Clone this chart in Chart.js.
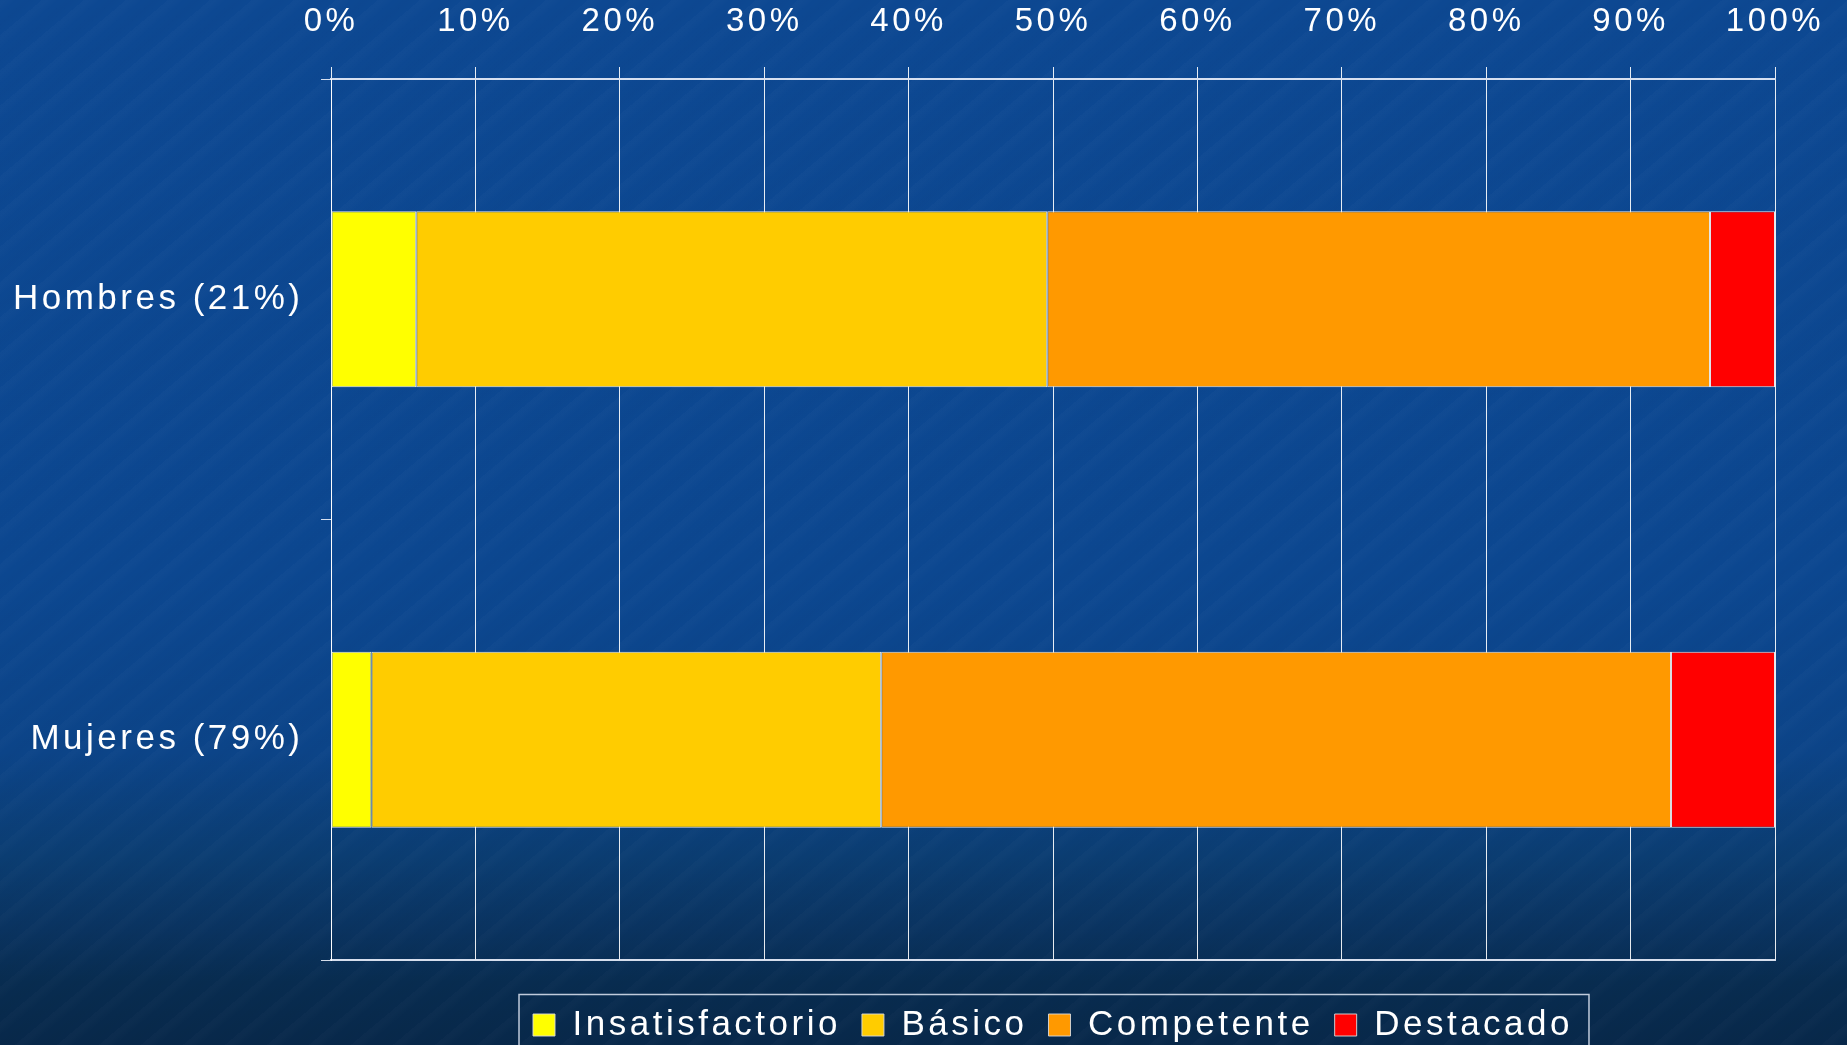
<!DOCTYPE html>
<html>
<head>
<meta charset="utf-8">
<script src="https://cdn.jsdelivr.net/npm/chart.js@4/dist/chart.umd.min.js"></script>
<style>
  html, body { margin: 0; padding: 0; width: 1847px; height: 1045px; overflow: hidden; }
  body {
    background:
      repeating-linear-gradient(140deg, rgba(255,255,255,0.015) 0px, rgba(255,255,255,0.015) 4px, rgba(0,0,0,0) 11px, rgba(0,0,0,0.012) 19px, rgba(0,0,0,0) 27px),
      linear-gradient(to bottom, #0d4892 0%, #0c4790 55%, #0c4488 72%, #0b3d72 82%, #0a3360 89%, #082c50 94%, #08284a 100%);
  }
  #wrap { position: absolute; left: 0; top: 0; width: 1847px; height: 1045px; }
</style>
</head>
<body>
<div id="wrap"><canvas id="c" width="1847" height="1045"></canvas></div>
<script>
const categories = ['Hombres (21%)', 'Mujeres (79%)'];
const seriesNames = ['Insatisfactorio', 'Básico', 'Competente', 'Destacado'];
const insatisfactorio = [5.9, 2.8];
const basico = [43.7, 35.3];
const competente = [45.9, 54.7];
const destacado = [4.5, 7.2];
const tickValues = [0, 10, 20, 30, 40, 50, 60, 70, 80, 90, 100];
const colors = ['#FFFF00', '#FFCC00', '#FF9900', '#FF0000'];

const seriesValues = [insatisfactorio, basico, competente, destacado];
const FONT = "'Liberation Sans', Arial, sans-serif";

function applySpacing(chart) {
  try { chart.ctx.letterSpacing = '3.5px'; } catch (e) {}
}

const spacingPlugin = {
  id: 'spacing',
  beforeInit: applySpacing,
  beforeUpdate: applySpacing,
  beforeLayout: applySpacing,
  afterLayout(chart) {
    // centre the legend under the plot area
    const lg = chart.legend;
    if (lg && chart.chartArea) {
      lg.left = chart.chartArea.left;
      lg.right = chart.chartArea.right;
      lg.width = lg.right - lg.left;
    }
  },
  beforeDraw: applySpacing,
  beforeDatasetsDraw: applySpacing,
  afterDatasetsDraw: applySpacing
};

const legendFrame = {
  id: 'legendFrame',
  afterDraw(chart) {
    const lg = chart.legend;
    if (!lg || !lg.legendHitBoxes || !lg.legendHitBoxes.length) return;
    const boxes = lg.legendHitBoxes;
    const first = boxes[0], last = boxes[boxes.length - 1];
    const ctx = chart.ctx;
    ctx.save();
    ctx.strokeStyle = 'rgba(225,232,245,0.85)';
    ctx.lineWidth = 1.5;
    const l = first.left - 14, r = last.left + last.width + 16;
    const t = first.top - 13;
    ctx.beginPath();
    ctx.moveTo(l, chart.height + 5);
    ctx.lineTo(l, t);
    ctx.lineTo(r, t);
    ctx.lineTo(r, chart.height + 5);
    ctx.stroke();
    ctx.restore();
  }
};

new Chart(document.getElementById('c'), {
  type: 'bar',
  data: {
    labels: categories,
    datasets: seriesNames.map((name, i) => ({
      label: name,
      data: seriesValues[i],
      backgroundColor: colors[i],
      borderColor: 'rgba(240,240,240,0.95)',
      borderWidth: 1,
      borderSkipped: false,
      barPercentage: 0.4,
      categoryPercentage: 1.0
    }))
  },
  options: {
    indexAxis: 'y',
    responsive: false,
    animation: false,
    devicePixelRatio: 1,
    layout: { padding: { top: 0, right: 72, left: 8, bottom: -7.5 } },
    plugins: {
      tooltip: { enabled: false },
      legend: {
        position: 'bottom',
        labels: {
          color: '#ffffff',
          font: { family: FONT, size: 35 },
          boxWidth: 22,
          boxHeight: 22,
          padding: 21,
          generateLabels(chart) {
            return chart.data.datasets.map((ds, i) => ({
              text: ds.label,
              fillStyle: ds.backgroundColor,
              strokeStyle: 'rgba(220,220,220,0.9)',
              lineWidth: 1,
              fontColor: '#ffffff',
              datasetIndex: i,
              hidden: false
            }));
          }
        }
      }
    },
    scales: {
      x: {
        position: 'top',
        stacked: true,
        min: 0,
        max: 100,
        afterBuildTicks(scale) { scale.ticks = tickValues.map(v => ({ value: v })); },
        afterFit(scale) { scale.height = 79; scale.paddingRight = 0; scale.paddingLeft = 0; },
        ticks: {
          color: '#ffffff',
          font: { family: FONT, size: 33 },
          padding: 25,
          callback: v => v + '%'
        },
        grid: {
          color: 'rgba(255,255,255,0.9)',
          lineWidth: 1,
          tickLength: 12,
          drawTicks: true
        },
        border: { display: true, color: 'rgba(225,232,245,0.95)', width: 2 }
      },
      x2: {
        position: 'bottom',
        min: 0,
        max: 100,
        ticks: { display: false },
        grid: { display: false, drawTicks: false },
        afterFit(scale) { scale.height = 26.5; },
        border: { display: true, color: 'rgba(225,232,245,0.95)', width: 2 }
      },
      y: {
        stacked: true,
        afterFit(scale) { scale.width = 323; },
        ticks: {
          color: '#ffffff',
          font: { family: FONT, size: 35 },
          padding: 17.5
        },
        grid: {
          offset: true,
          drawOnChartArea: false,
          drawTicks: true,
          tickLength: 10,
          color: 'rgba(235,240,250,0.9)'
        },
        border: { display: true, color: 'rgba(255,255,255,0.9)', width: 1 }
      }
    }
  },
  plugins: [spacingPlugin, legendFrame]
});
</script>
</body>
</html>
